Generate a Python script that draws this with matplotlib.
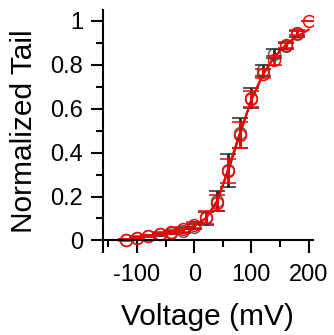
import matplotlib
matplotlib.use('Agg')
import matplotlib.pyplot as plt
from matplotlib.ticker import MultipleLocator, FuncFormatter

plt.rcParams['font.family'] = ['Liberation Sans', 'DejaVu Sans']
plt.rcParams['axes.unicode_minus'] = False

# black series (data + SEM)
v_black = [-120, -100, -80, -60, -40, -20, 0, 20, 40, 60, 80, 100, 120, 140, 160, 180]
y_black = [0.004, 0.012, 0.02, 0.028, 0.035, 0.045, 0.062, 0.10, 0.18, 0.32, 0.49, 0.65, 0.775, 0.85, 0.885, 0.94]
e_black = [0.004, 0.004, 0.005, 0.006, 0.007, 0.01, 0.012, 0.03, 0.045, 0.075, 0.07, 0.045, 0.025, 0.02, 0.015, 0.012]

# red series (data + SEM)
v_red = [-120, -100, -80, -60, -40, -20, 0, 20, 40, 60, 80, 100, 120, 140, 160, 180, 200]
y_red = [0.003, 0.013, 0.02, 0.03, 0.038, 0.05, 0.07, 0.105, 0.17, 0.315, 0.48, 0.645, 0.76, 0.82, 0.89, 0.947, 1.0]
e_red = [0.005, 0.005, 0.006, 0.007, 0.008, 0.01, 0.015, 0.03, 0.037, 0.055, 0.06, 0.035, 0.022, 0.02, 0.015, 0.012, 0.0]

# fitted curves
fit_v_black = [-120, -100, -80, -60, -40, -20, 0, 20, 40, 60, 80, 100, 120, 140, 160, 180]
fit_black = [0.004, 0.011, 0.019, 0.028, 0.037, 0.048, 0.065, 0.10, 0.18, 0.32, 0.485, 0.64, 0.755, 0.835, 0.89, 0.935]
fit_v_red = [-120, -100, -80, -60, -40, -20, 0, 20, 40, 60, 80, 100, 120, 140, 160, 180, 200]
fit_red = [0.004, 0.011, 0.019, 0.028, 0.037, 0.049, 0.067, 0.10, 0.175, 0.33, 0.49, 0.64, 0.755, 0.835, 0.89, 0.93, 0.96]

fig = plt.figure(figsize=(3.34, 3.35), dpi=100)
ax = fig.add_axes([0.3075, 0.2463, 0.630, 0.724])

ax.errorbar(v_black, y_black, yerr=e_black, fmt='o', mfc='none', mec='#404040', ms=8.5, mew=1.1,
            ecolor='black', elinewidth=2, capsize=5.5, capthick=2, alpha=0.85)
ax.plot(fit_v_black, fit_black, color='black', lw=1.4)
ax.errorbar(v_red, y_red, yerr=e_red, fmt='o', mfc='none', mec='red', ms=8.5, mew=1.1,
            ecolor='red', elinewidth=2, capsize=5.5, capthick=2)
ax.plot(fit_v_red, fit_red, color='red', lw=1.6)

ax.set_xlim(-160, 208)
ax.set_ylim(-0.055, 1.05)
ax.spines['top'].set_visible(False)
ax.spines['right'].set_visible(False)
ax.spines['bottom'].set_position(('data', 0))
for s in ['left', 'bottom']:
    ax.spines[s].set_linewidth(1.5)

ax.xaxis.set_major_locator(MultipleLocator(100))
ax.xaxis.set_minor_locator(MultipleLocator(50))
ax.yaxis.set_major_locator(MultipleLocator(0.2))
ax.yaxis.set_minor_locator(MultipleLocator(0.1))
ax.yaxis.set_major_formatter(FuncFormatter(lambda v, p: '%g' % round(v, 2)))
ax.tick_params(which='major', length=9, width=1.5, labelsize=17)
ax.tick_params(which='minor', length=5, width=1.5)
ax.tick_params(axis='x', which='major', pad=8)
ax.tick_params(axis='y', which='major', pad=5)

ax.set_xlabel('Voltage (mV)', fontsize=21.5, labelpad=12)
ax.set_ylabel('Normalized Tail', fontsize=21.5, labelpad=9)

fig.savefig('out.png', dpi=100)
